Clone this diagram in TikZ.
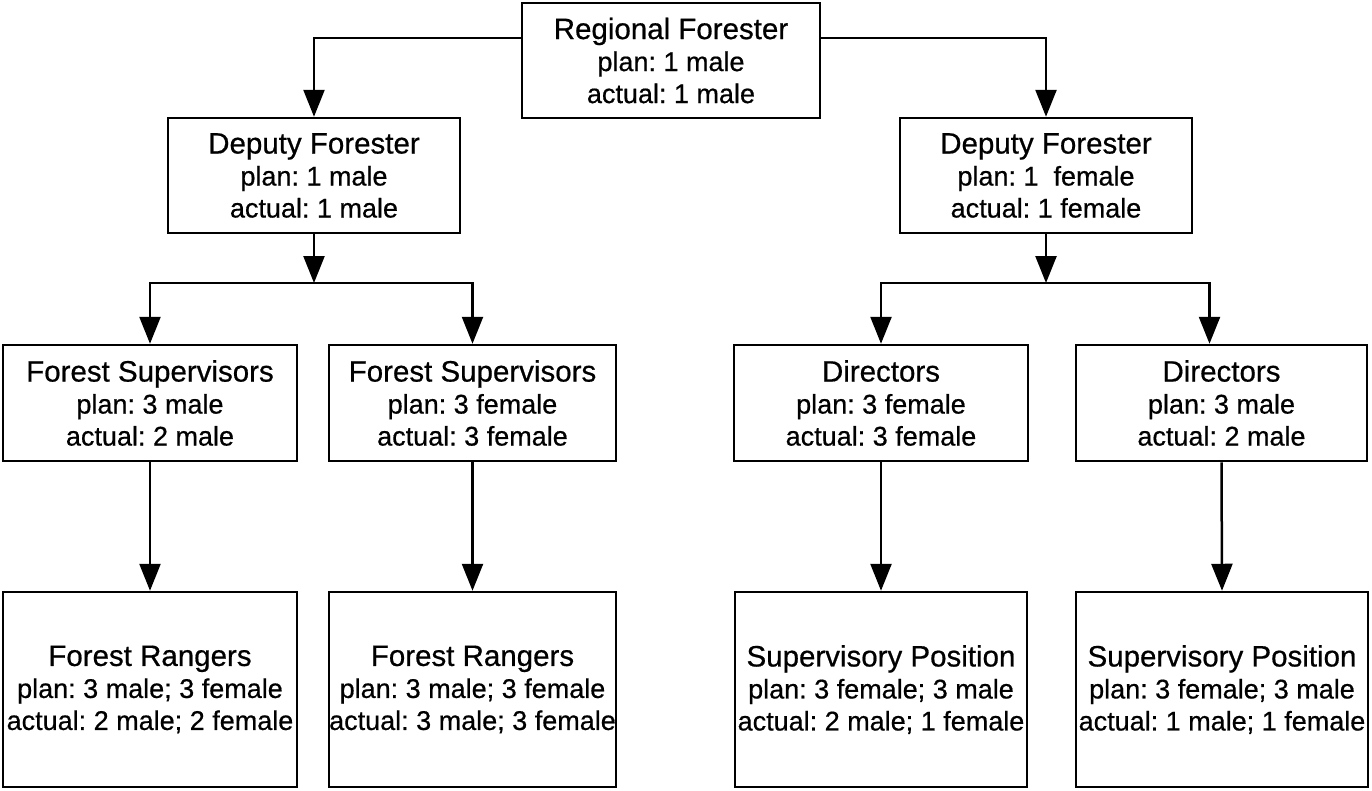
\documentclass[tikz,border=0pt]{standalone}
\usepackage{fontspec}
\setmainfont{Liberation Sans}[UprightFeatures={FakeBold=0.6}]
\usetikzlibrary{arrows.meta}
\frenchspacing
\begin{document}
\begin{tikzpicture}[x=1pt,y=-1pt,
  box/.style={draw, line width=2.5pt, rectangle, inner sep=0pt, align=center,
    font=\fontsize{27}{32}\selectfont},
  arr/.style={line width=2.5pt, -{Triangle[width=21pt,length=27pt]}}]
\useasboundingbox (0,0) rectangle (1372,790);
\newcommand\ttlfont{\fontsize{29.5}{32}\selectfont}
% top
\node[box, minimum width=298pt, minimum height=115pt] (rf) at (671,60.5)
  {{\ttlfont Regional Forester}\\plan: 1 male\\actual: 1 male};
% deputies
\node[box, minimum width=292pt, minimum height=115pt] (dl) at (314,175.5)
  {{\ttlfont Deputy Forester}\\plan: 1 male\\actual: 1 male};
\node[box, minimum width=292pt, minimum height=115pt] (dr) at (1046,175.5)
  {{\ttlfont Deputy Forester}\\plan: 1\ \ female\\actual: 1 female};
% middle row
\node[box, minimum width=294pt, minimum height=116pt] (fs1) at (150,403)
  {{\ttlfont Forest Supervisors}\\plan: 3 male\\actual: 2 male};
\node[box, minimum width=287pt, minimum height=116pt] (fs2) at (472.5,403)
  {{\ttlfont Forest Supervisors}\\plan: 3 female\\actual: 3 female};
\node[box, minimum width=294pt, minimum height=116pt] (d1) at (881,403)
  {{\ttlfont Directors}\\plan: 3 female\\actual: 3 female};
\node[box, minimum width=291pt, minimum height=116pt] (d2) at (1221.5,403)
  {{\ttlfont Directors}\\plan: 3 male\\actual: 2 male};
% bottom row
\node[box, minimum width=294pt, minimum height=195pt] (fr1) at (150,689.5)
  {{\ttlfont Forest Rangers}\\plan: 3 male; 3 female\\actual: 2 male; 2 female};
\node[box, minimum width=287pt, minimum height=195pt] (fr2) at (472.5,689.5)
  {{\ttlfont Forest Rangers}\\plan: 3 male; 3 female\\actual: 3 male; 3 female};
\node[box, minimum width=292pt, minimum height=195pt] (sp1) at (881,689.5)
  {{\ttlfont Supervisory Position}\\plan: 3 female; 3 male\\actual: 2 male; 1 female};
\node[box, minimum width=292pt, minimum height=195pt] (sp2) at (1222,689.5)
  {{\ttlfont Supervisory Position}\\plan: 3 female; 3 male\\actual: 1 male; 1 female};
% connectors
\draw[arr] ([yshift=22.5pt]rf.west) -| (dl.north);
\draw[arr] ([yshift=22.5pt]rf.east) -| (dr.north);
\coordinate (jl) at (314,283);
\coordinate (jr) at (1046,283);
\draw[arr] (dl.south) -- (jl);
\draw[arr] (jl) -| (fs1.north);
\draw[arr] (jl) -| (fs2.north);
\draw[arr] (dr.south) -- (jr);
\draw[arr] (jr) -| (d1.north);
\draw[arr] (jr) -| ([xshift=-12pt]d2.north);
\draw[arr] (fs1.south) -- (fr1.north);
\draw[arr] (fs2.south) -- (fr2.north);
\draw[arr] (d1.south) -- (sp1.north);
\draw[arr] (d2.south) -- (sp2.north);
\end{tikzpicture}
\end{document}
